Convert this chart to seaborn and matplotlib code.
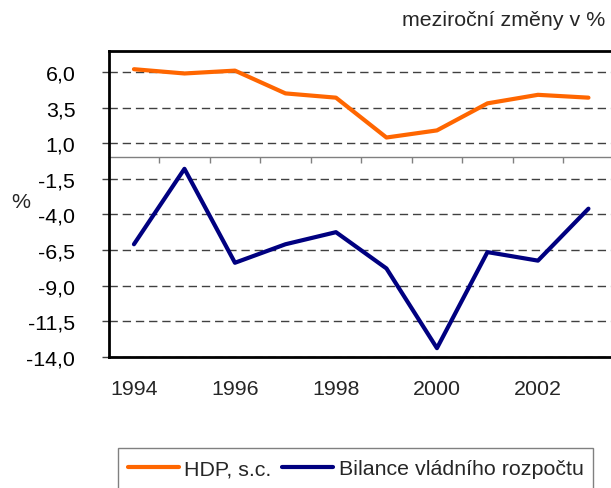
import numpy as np
import pandas as pd
import matplotlib
matplotlib.use('Agg')
import matplotlib.pyplot as plt
import matplotlib.patches as mpatches
from matplotlib.ticker import FuncFormatter
import seaborn as sns

years = [1994, 1995, 1996, 1997, 1998, 1999, 2000, 2001, 2002, 2003]
hdp = [6.2, 5.9, 6.1, 4.5, 4.2, 1.4, 1.9, 3.8, 4.4, 4.2]
bilance = [-6.1, -0.8, -7.4, -6.1, -5.25, -7.8, -13.4, -6.65, -7.25, -3.6]
labels = ['HDP, s.c.', 'Bilance vládního rozpočtu']
colors = ['#FF6600', '#000080']
year_ticks = [1994, 1996, 1998, 2000, 2002]
y_ticks = [-14.0, -11.5, -9.0, -6.5, -4.0, -1.5, 1.0, 3.5, 6.0]

df = pd.concat([
    pd.DataFrame({'rok': years, 'hodnota': hdp, 'rada': labels[0]}),
    pd.DataFrame({'rok': years, 'hodnota': bilance, 'rada': labels[1]}),
])

sns.set_style('white')
plt.rcParams['font.family'] = ['Liberation Sans', 'DejaVu Sans']
fs = 15.4

fig = plt.figure(figsize=(6.11, 4.89), dpi=100)
ax = fig.add_axes([108.7 / 611, 1 - 357.7 / 489, 505 / 611, 306 / 489])

sns.lineplot(data=df, x='rok', y='hodnota', hue='rada', palette=dict(zip(labels, colors)),
             linewidth=3, ax=ax)

ax.set_xlim(1993.5, 2003.5)
ax.set_ylim(-14, 7.5)
ax.set_xlabel('')
ax.set_ylabel('')

# dashed grid + y ticks
ax.set_yticks(y_ticks)
ax.yaxis.set_major_formatter(FuncFormatter(lambda v, p: f'{v:.1f}'.replace('.', ',')))
ax.yaxis.grid(True, color='#404040', linestyle=(0, (6, 3.5)), linewidth=1)
ax.set_axisbelow(True)
ax.tick_params(axis='y', left=True, length=5, width=1, color='#404040', pad=19,
               labelsize=fs, labelcolor='black')

ax.set_xticks(year_ticks)
ax.set_xticklabels([str(y) for y in year_ticks])
ax.tick_params(axis='x', bottom=False, length=0, pad=16, labelsize=fs)

for s in ax.spines.values():
    s.set_visible(True)
    s.set_color('black')
    s.set_linewidth(2)

# category axis crossing at zero, tick marks between categories
zero = ax.secondary_xaxis(14 / 21.5)
zero.set_xticks(np.arange(1994.5, 2003, 1.0))
zero.xaxis.set_ticks_position('bottom')
zero.tick_params(axis='x', direction='out', length=4.3, width=1, color='#808080',
                 labelbottom=False, labeltop=False, top=False, bottom=True)
for name, s in zero.spines.items():
    s.set_color('#808080')
    s.set_linewidth(1)

handles, labs = ax.get_legend_handles_labels()
ax.get_legend().remove()

fig.legend(handles, labs, loc='center left', bbox_to_anchor=(117 / 611, 1 - 470 / 489),
           ncol=2, frameon=False, borderpad=0, handlelength=2.38, handletextpad=0.27,
           columnspacing=0.5, fontsize=fs)
fig.patches.append(mpatches.Rectangle((118.3 / 611, -0.05), (592.7 - 118.3) / 611,
                                      1 - 449 / 489 + 0.05,
                                      transform=fig.transFigure, fill=False,
                                      edgecolor='#808080', linewidth=1))

fig.text(605.7 / 611, 1 - 21 / 489, 'meziroční změny v %', ha='right', va='center', fontsize=fs)
fig.text(20.5 / 611, 1 - 202 / 489, '%', ha='center', va='center', fontsize=fs)

fig.savefig('out.png', dpi=100)
